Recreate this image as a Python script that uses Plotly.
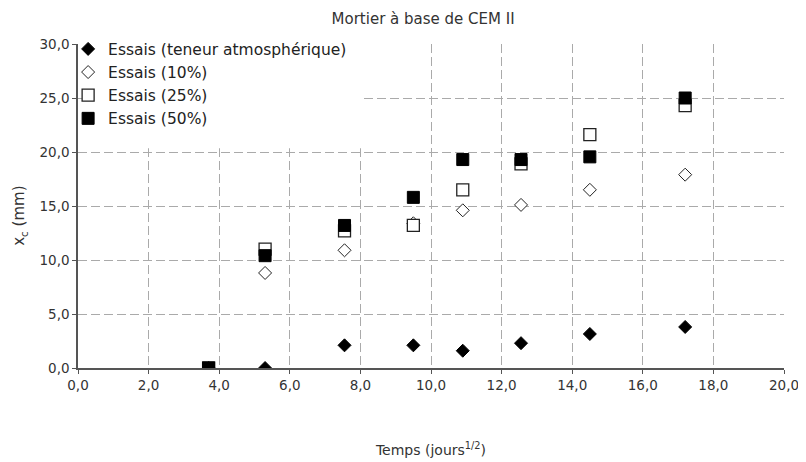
import plotly.graph_objects as go

x_vals = [3.7, 5.3, 7.55, 9.5, 10.9, 12.55, 14.5, 17.2]
s_atm = [0.0, 0.0, 2.1, 2.1, 1.6, 2.3, 3.15, 3.8]
s_10 = [0.0, 8.8, 10.9, 13.4, 14.6, 15.1, 16.5, 17.9]
s_25 = [0.0, 11.0, 12.7, 13.2, 16.5, 18.9, 21.6, 24.3]
s_50 = [0.0, 10.4, 13.2, 15.8, 19.3, 19.3, 19.55, 25.0]
names = ["Essais (teneur atmosphérique)", "Essais (10%)", "Essais (25%)", "Essais (50%)"]
x_ticks = [0, 2, 4, 6, 8, 10, 12, 14, 16, 18, 20]
y_ticks = [0, 5, 10, 15, 20, 25, 30]

FONT = "DejaVu Sans, Liberation Sans, Arial, sans-serif"

fig = go.Figure()
styles = [
    dict(symbol="diamond", size=10, color="black", line=dict(color="black", width=1)),
    dict(symbol="diamond", size=10, color="white", line=dict(color="#222", width=1)),
    dict(symbol="square", size=12, color="white", line=dict(color="#222", width=1.3)),
    dict(symbol="square", size=12, color="black", line=dict(color="black", width=1)),
]
for nm, ys, st in zip(names, [s_atm, s_10, s_25, s_50], styles):
    fig.add_trace(go.Scatter(x=x_vals, y=ys, mode="markers", name=nm, marker=st))

# white patch behind the legend hiding the grid
fig.add_shape(type="rect", xref="x", yref="y", x0=0.17, x1=8.07, y0=20.35, y1=30.5,
              fillcolor="white", line=dict(width=0), layer="between")

# y-axis title
fig.add_annotation(text="x<sub>c</sub> (mm)", xref="paper", yref="paper",
                   x=-0.082, y=0.47, xanchor="center", yanchor="middle",
                   textangle=-90, showarrow=False,
                   font=dict(family=FONT, size=15, color="#333"))

grid = dict(showgrid=True, gridcolor="#aaa", griddash="9px,4px", gridwidth=1,
            automargin=False, showline=True, linecolor="#555", linewidth=1.5,
            ticks="outside", ticklen=4, tickcolor="#555", zeroline=False,
            tickformat=".1f")

fig.update_layout(
    width=806, height=462,
    margin=dict(l=70, r=30, t=36, b=102),
    paper_bgcolor="white", plot_bgcolor="white",
    separators=", ",
    font=dict(family=FONT, size=13.5, color="#333"),
    title=dict(text="Mortier à base de CEM II", x=0.515, xanchor="center",
               xref="container", yref="container", y=0.977, yanchor="middle",
               font=dict(family=FONT, size=15, color="#333")),
    showlegend=True,
    legend=dict(x=-0.014, y=1.036, xanchor="left", yanchor="top", bgcolor="rgba(0,0,0,0)",
                font=dict(family=FONT, size=15.5, color="#222"),
                itemwidth=30, tracegroupgap=0),
    xaxis=dict(range=[0, 20], tickvals=x_ticks, **grid,
               title=dict(text="Temps (jours<sup>1/2</sup>)", standoff=53,
                          font=dict(family=FONT, size=14, color="#333"))),
    yaxis=dict(range=[0, 30], tickvals=y_ticks, **grid),
)
fig.write_html("out.html")
